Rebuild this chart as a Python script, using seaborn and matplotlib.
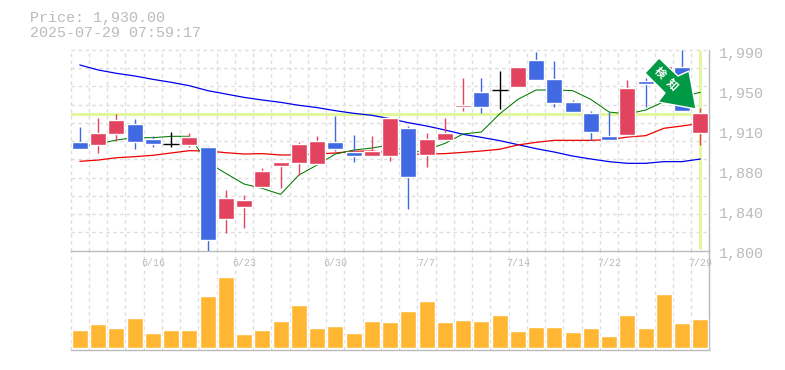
import matplotlib
matplotlib.use("Agg")
import matplotlib.pyplot as plt
from matplotlib.patches import Polygon
from matplotlib.transforms import ScaledTranslation, IdentityTransform
import numpy as np
import pandas as pd
import seaborn as sns

# candle values (candle 32 sits behind the arrow, so it is a guess)
opens = [1903, 1900.2, 1910.6, 1920.1, 1905.8, 1900.8, 1900.2, 1898.3, 1830, 1841.4, 1860.3, 1880.3,
         1883.1, 1882.2, 1903, 1893.5, 1889.7, 1889.7, 1916.3, 1890.7, 1904.9, 1936.2, 1950.4, 1952,
         1955.1, 1980.7, 1962.7, 1940.9, 1930.5, 1908.7, 1909.6, 1960.8, 1958, 1973.8, 1911.5]
closes = [1896.4, 1911.5, 1923.9, 1903, 1901.1, 1900.8, 1907.7, 1810.1, 1849.9, 1848, 1875.5, 1884,
          1901.1, 1904, 1896.4, 1889.7, 1894.5, 1925.8, 1869.8, 1905.8, 1911.5, 1938.1, 1936.2, 1952,
          1974.1, 1961.8, 1940, 1931.4, 1912.5, 1904.9, 1954.2, 1958, 1975, 1932.7, 1930.5]
highs = [1917.2, 1925.8, 1929.6, 1924.8, 1908.7, 1912.5, 1911.5, 1899.2, 1857.5, 1852.8, 1878.4, 1884,
         1903, 1908.7, 1927.7, 1909.6, 1908.7, 1925.8, 1918.2, 1911.5, 1925.8, 1963.7, 1963.7, 1970.3,
         1974.1, 1988.3, 1979.8, 1942.8, 1932.4, 1931.4, 1961.8, 1963.7, 1975, 1990.2, 1935.2]
lows = [1896.4, 1892.6, 1904, 1896.4, 1898.3, 1898.3, 1898.3, 1800, 1816.7, 1821.5, 1860.3, 1859.4,
        1871.7, 1882.2, 1894.5, 1884, 1889.7, 1885, 1839.5, 1879.3, 1904.9, 1932.4, 1930.5, 1934.3,
        1955.1, 1961.8, 1936.2, 1931.4, 1904.9, 1904.9, 1909.6, 1936.2, 1958, 1932.7, 1900.2]
volumes = [54, 72, 60, 90, 45, 54, 54, 156, 213, 42, 54, 81, 129, 60, 66, 45, 81, 78,
           111, 141, 78, 84, 81, 99, 51, 63, 63, 48, 60, 36, 99, 60, 162, 75, 87]

ma_short = [1898.5, 1901.1, 1904.9, 1907.1, 1907.1, 1908.4, 1908.4, 1883.7, 1873.3, 1863.2, 1859, 1853.4,
            1871.7, 1881.2, 1891.6, 1895.4, 1897.3, 1900.2, 1892.6, 1895.4, 1901.7, 1910.6, 1912.5, 1929.6,
            1943.4, 1952.3, 1952.3, 1951.7, 1943.4, 1931.4, 1929.6, 1933.3, 1941.2, 1946, 1950.1]
ma_mid = [1884.7, 1885.9, 1888.1, 1889.1, 1890.4, 1892.6, 1894.8, 1894.5, 1892.9, 1891.6, 1892, 1890.7,
          1890.7, 1891.6, 1892.6, 1894.2, 1894.5, 1892.9, 1891, 1891.6, 1892, 1893.2, 1894.5, 1896.1,
          1900.2, 1902.7, 1904.6, 1904.6, 1904.6, 1905.2, 1907.7, 1909, 1916, 1918.2, 1920.7]
ma_long = [1976, 1971.3, 1968.1, 1965.6, 1962.4, 1959.6, 1956.4, 1951.7, 1948.5, 1945.3, 1942.8, 1940.6,
           1937.8, 1935.6, 1932.7, 1930.2, 1928.3, 1925.1, 1921.3, 1918.2, 1914.4, 1910.3, 1907.4, 1904.3,
           1900.5, 1896.7, 1893.5, 1889.7, 1886.9, 1884.4, 1882.8, 1882.8, 1884.4, 1884.4, 1886.9]

tick_idx = [4, 9, 14, 19, 24, 29, 34]
date_labels = ["6/16", "6/23", "6/30", "7/7", "7/14", "7/22", "7/29"]
price_ticks = [1800, 1838, 1876, 1914, 1952, 1990]
price_labels = ["1,800", "1,840", "1,880", "1,910", "1,950", "1,990"]
last_price = 1930

RED = "#e2435f"
BLUE = "#4169e1"
GREY = "#bbbbbb"
GRID = "#dddddd"
PALE = "#e2f7a0"

sns.set_theme(style="white")
plt.rcParams["font.family"] = ["Liberation Mono", "DejaVu Sans Mono"]

W, H = 785, 370
fig = plt.figure(figsize=(W / 100, H / 100), dpi=100)
ax_vol = fig.add_axes([70.7 / W, 1 - 350.3 / H, 638.8 / W, 99.6 / H])
ax = fig.add_axes([70.7 / W, 1 - 250.7 / H, 638.8 / W, 200.7 / H])
ax.set_zorder(2)
ax.patch.set_visible(False)

df = pd.DataFrame({"i": np.arange(len(opens)), "open": opens, "close": closes, "high": highs,
                   "low": lows, "volume": volumes, "short": ma_short, "mid": ma_mid, "long": ma_long})

grid_kw = dict(color=GRID, lw=1, ls=(0, (2.5, 2.5)), clip_on=False, zorder=0)
x_edges = np.arange(len(df) + 1) - 0.5

# volume panel
sns.barplot(data=df, x="i", y="volume", color="#ffb733", saturation=1, width=16 / 18.25, ax=ax_vol, zorder=2)
ax_vol.set_xlim(-0.5, 34.5)
ax_vol.set_ylim(-7, 292)
ax_vol.set_xticks([])
ax_vol.set_yticks([])
ax_vol.set_xlabel("")
ax_vol.set_ylabel("")
for x in x_edges:
    ax_vol.axvline(x, **grid_kw)

# price panel
ax.set_xlim(-0.5, 34.5)
ax.set_ylim(1800, 1990.2)
for x in x_edges:
    ax.axvline(x, **grid_kw)
for y in np.linspace(1800, 1990.2, 12)[1:]:
    ax.axhline(y, **grid_kw)

ax.axhline(last_price, color=PALE, lw=2.2, zorder=1)
ax.plot([34, 34], [1802, 1990], color=PALE, lw=2.2, zorder=1, solid_capstyle="butt")

sns.lineplot(data=df, x="i", y="long", color="#0000ee", lw=0.9, ax=ax, zorder=2)
sns.lineplot(data=df, x="i", y="mid", color="#ee0000", lw=0.9, ax=ax, zorder=2)
sns.lineplot(data=df, x="i", y="short", color="#007a00", lw=0.75, ax=ax, zorder=2)

# candles
for _, c in df.iterrows():
    col = RED if c["close"] > c["open"] else BLUE if c["close"] < c["open"] else "black"
    ax.vlines(c["i"], c["low"], c["high"], color=col, lw=1, zorder=3)
    if c["close"] == c["open"]:
        ax.hlines(c["open"], c["i"] - 0.44, c["i"] + 0.44, color=col, lw=1, zorder=3)
    else:
        ax.bar(c["i"], abs(c["close"] - c["open"]), bottom=min(c["open"], c["close"]),
               width=16 / 18.25, color=col, zorder=3)

ax.set_xlabel("")
ax.set_ylabel("")
ax.set_xticks(tick_idx, date_labels)
ax.yaxis.tick_right()
ax.set_yticks(price_ticks, price_labels)
ax.tick_params(axis="x", length=0, pad=5, labelsize=7.2, colors=GREY)
ax.tick_params(axis="y", length=0, pad=7, labelsize=10.8, colors=GREY)
offset = ScaledTranslation(0, -1.4 / 72, fig.dpi_scale_trans)
for lab in ax.get_yticklabels():
    lab.set_transform(lab.get_transform() + offset)

for a in (ax, ax_vol):
    for s in ("top", "left"):
        a.spines[s].set_visible(False)
    for s in ("bottom", "right"):
        a.spines[s].set_color(GREY)
        a.spines[s].set_linewidth(1)
        a.spines[s].set_zorder(1)

fig.text(30 / W, 1 - 18 / H, "Price: 1,930.00", color=GREY, fontsize=10.8, va="center")
fig.text(30 / W, 1 - 33 / H, "2025-07-29 07:59:17", color=GREY, fontsize=10.8, va="center")

# green arrow badge, placed in pixels from the top left
arrow_px = [(659, 58), (645, 73), (665, 93), (658, 102), (696, 109), (689, 71), (678, 76)]
arrow = Polygon([(x, H - y) for x, y in arrow_px], closed=True, facecolor="#009944", edgecolor="white",
                lw=1, transform=IdentityTransform(), zorder=10, clip_on=False)
fig.add_artist(arrow)
for s, (x, y) in zip("検知", [(660, 73), (672, 85)]):
    fig.text(x / W, 1 - y / H, s, color="white", fontsize=8, rotation=-45, ha="center", va="center",
             family=["Noto Sans CJK JP", "DejaVu Sans"], fontweight="bold", zorder=11)

fig.savefig("out.png", dpi=100)
